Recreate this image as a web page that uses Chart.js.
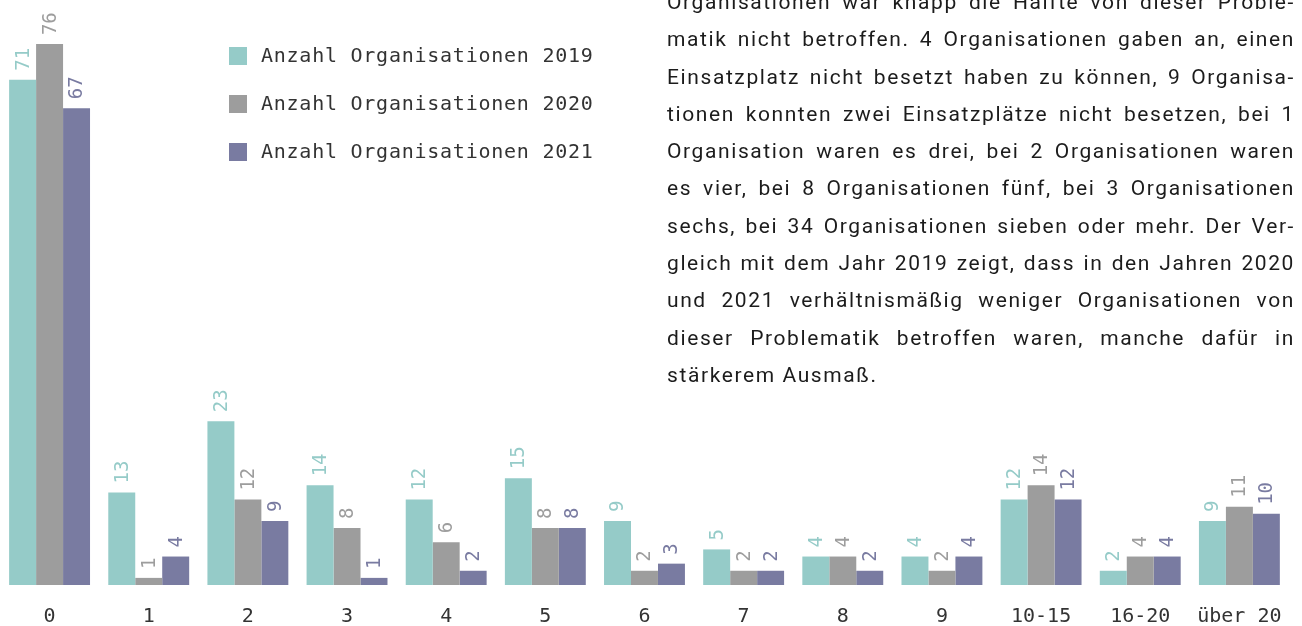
<!DOCTYPE html>
<html>
<head>
<meta charset="utf-8">
<script src="https://cdn.jsdelivr.net/npm/chart.js@4"></script>
<style>
  body { margin: 0; background: #fff; }
  #wrap { position: relative; width: 1302px; height: 626px; overflow: hidden; }
  #text {
    position: absolute; left: 667px; top: -16px; width: 628px;
    font-family: Roboto, sans-serif; font-size: 21px; line-height: 37.3px;
    color: #1c1c1c; letter-spacing: 1.6px;
  }
  #text div { text-align: justify; text-align-last: justify; white-space: nowrap; }
  #text div.last { text-align-last: left; }
</style>
</head>
<body>
<div id="wrap">
  <canvas id="myChart" width="1302" height="626"></canvas>
  <div id="text"></div>
</div>
<script>
// categories + values
var categories = ['0', '1', '2', '3', '4', '5', '6', '7', '8', '9', '10-15', '16-20', 'über 20'];
var orgs2019 = [71, 13, 23, 14, 12, 15, 9, 5, 4, 4, 12, 2, 9];
var orgs2020 = [76, 1, 12, 8, 6, 8, 2, 2, 4, 2, 14, 4, 11];
var orgs2021 = [67, 4, 9, 1, 2, 8, 3, 2, 2, 4, 12, 4, 10];
var seriesLabels = ['Anzahl Organisationen 2019', 'Anzahl Organisationen 2020', 'Anzahl Organisationen 2021'];
var seriesColors = ['#95cbc8', '#9d9d9d', '#797ba1'];

var textLines = [
  'Organisationen war knapp die Hälfte von dieser Proble-',
  'matik nicht betroffen. 4 Organisationen gaben an, einen',
  'Einsatzplatz nicht besetzt haben zu können, 9 Organisa-',
  'tionen konnten zwei Einsatzplätze nicht besetzen, bei 1',
  'Organisation waren es drei, bei 2 Organisationen waren',
  'es vier, bei 8 Organisationen fünf, bei 3 Organisationen',
  'sechs, bei 34 Organisationen sieben oder mehr. Der Ver-',
  'gleich mit dem Jahr 2019 zeigt, dass in den Jahren 2020',
  'und 2021 verhältnismäßig weniger Organisationen von',
  'dieser Problematik betroffen waren, manche dafür in',
  'stärkerem Ausmaß.'
];

var box = document.getElementById('text');
textLines.forEach(function (line, i) {
  var d = document.createElement('div');
  d.textContent = line;
  if (i == textLines.length - 1) d.className = 'last';
  box.appendChild(d);
});

var monoFont = '"DejaVu Sans Mono", monospace';

// value labels above bars, rotated
var valueLabels = {
  id: 'valueLabels',
  afterDatasetsDraw: function (chart) {
    var ctx = chart.ctx;
    ctx.save();
    ctx.font = '19px ' + monoFont;
    ctx.textAlign = 'left';
    ctx.textBaseline = 'middle';
    chart.data.datasets.forEach(function (ds, di) {
      var meta = chart.getDatasetMeta(di);
      ctx.fillStyle = ds.backgroundColor;
      meta.data.forEach(function (bar, i) {
        ctx.save();
        ctx.translate(bar.x, bar.y - 9);
        ctx.rotate(-Math.PI / 2);
        ctx.fillText(String(ds.data[i]), 0, 1);
        ctx.restore();
      });
    });
    ctx.restore();
  }
};

// legend as vertical list in the top left
var sideLegend = {
  id: 'sideLegend',
  afterDraw: function (chart) {
    var ctx = chart.ctx;
    ctx.save();
    ctx.font = '20px ' + monoFont;
    ctx.letterSpacing = '0.75px';
    ctx.textBaseline = 'middle';
    chart.data.datasets.forEach(function (ds, i) {
      var y = 56 + i * 48;
      ctx.fillStyle = ds.backgroundColor;
      ctx.fillRect(229, y - 9, 18, 18);
      ctx.fillStyle = '#333';
      ctx.fillText(ds.label, 261, y + 1);
    });
    ctx.restore();
  }
};

var ctx = document.getElementById('myChart').getContext('2d');
var chart = new Chart(ctx, {
  type: 'bar',
  data: {
    labels: categories,
    datasets: [
      { label: seriesLabels[0], data: orgs2019, backgroundColor: seriesColors[0] },
      { label: seriesLabels[1], data: orgs2020, backgroundColor: seriesColors[1] },
      { label: seriesLabels[2], data: orgs2021, backgroundColor: seriesColors[2] }
    ]
  },
  options: {
    responsive: false,
    animation: false,
    layout: { padding: { left: 0, right: 12, top: 0, bottom: 0 } },
    datasets: { bar: { categoryPercentage: 0.816, barPercentage: 1 } },
    plugins: { legend: { display: false }, tooltip: { enabled: false } },
    scales: {
      x: {
        grid: { display: false, drawTicks: false },
        border: { display: false },
        ticks: { color: '#333', padding: 20, font: { family: monoFont, size: 20 } },
        afterFit: function (scale) { scale.height = 41; }
      },
      y: { display: false, min: 0, max: 82.2 }
    }
  },
  plugins: [valueLabels, sideLegend]
});
</script>
</body>
</html>
